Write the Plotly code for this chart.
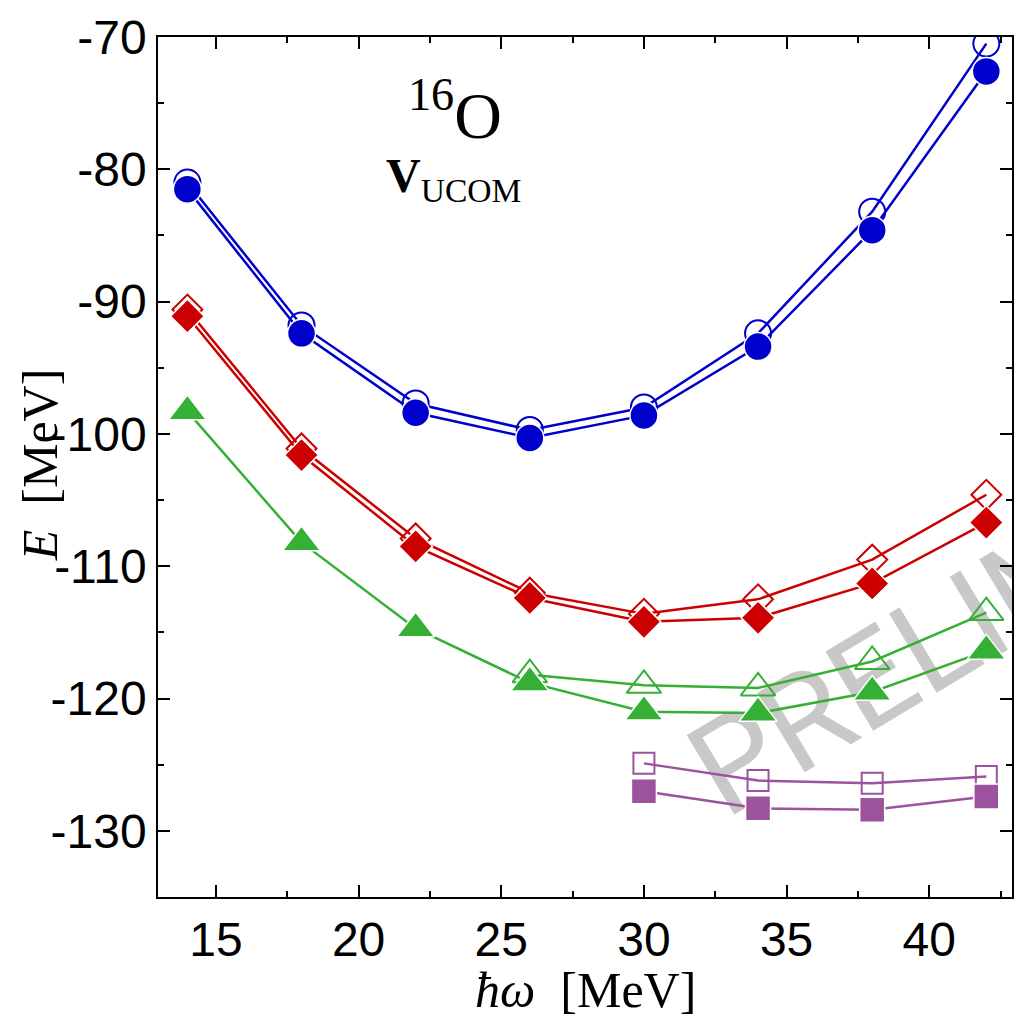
import math
import plotly.graph_objects as go

# ---- data ----
hw = [14, 18, 22, 26, 30, 34, 38, 42]
blue_filled = [-81.5, -92.4, -98.4, -100.3, -98.6, -93.4, -84.6, -72.6]
blue_open = [-81.0, -91.8, -97.7, -99.7, -98.0, -92.4, -83.2, -70.5]
red_filled = [-91.1, -101.6, -108.5, -112.4, -114.2, -113.9, -111.3, -106.7]
red_open = [-90.6, -101.1, -107.9, -112.0, -113.6, -112.5, -109.5, -104.6]
green_filled = [-98.3, -108.2, -114.7, -118.8, -121.0, -121.1, -119.5, -116.4]
hw_green_open = [26, 30, 34, 38, 42]
green_open = [-118.2, -119.0, -119.2, -117.2, -113.5]
hw_purple = [30, 34, 38, 42]
purple_filled = [-127.0, -128.3, -128.4, -127.4]
purple_open = [-124.9, -126.2, -126.4, -125.9]

x_tickvals = [15, 20, 25, 30, 35, 40]
x_ticktext = ["15", "20", "25", "30", "35", "40"]
y_tickvals = [-70, -80, -90, -100, -110, -120, -130]
y_ticktext = ["-70", "-80", "-90", "-100", "-110", "-120", "-130"]

BLUE = "#0000CC"
RED = "#CC0000"
GREEN = "#35B035"
PURPLE = "#9C529C"

fig = go.Figure()

def add_pair(x_open, y_open, x_filled, y_filled, color, sym, size_open, size_filled):
    fig.add_trace(go.Scatter(
        x=x_open, y=y_open, mode="lines+markers",
        line=dict(color=color, width=2.5),
        marker=dict(symbol=sym + "-open", size=size_open, color=color,
                    line=dict(color=color, width=2)),
        showlegend=False, hoverinfo="skip"))
    fig.add_trace(go.Scatter(
        x=x_filled, y=y_filled, mode="lines+markers",
        line=dict(color=color, width=2.5),
        marker=dict(symbol=sym, size=size_filled, color=color,
                    line=dict(color="white", width=1.5)),
        showlegend=False, hoverinfo="skip"))

add_pair(hw, blue_open, hw, blue_filled, BLUE, "circle", 26, 28)
add_pair(hw, red_open, hw, red_filled, RED, "diamond", 23, 26)
add_pair(hw_green_open, green_open, hw, green_filled, GREEN, "triangle-up", 30, 33)
add_pair(hw_purple, purple_open, hw_purple, purple_filled, PURPLE, "square", 21, 25)

L, T, R, B = 158, 37, 0, 121
W, H = 1014, 1018
pw, ph = W - L - R, H - T - B

def px(xp):
    return (xp - L) / pw

def py(yp):
    return (T + ph - yp) / ph

axis_common = dict(
    showgrid=False, zeroline=False, showline=True, linecolor="black", linewidth=1.5,
    ticks="inside", ticklen=12, tickwidth=1.5, tickcolor="black", mirror="ticks",
    tickfont=dict(family="Liberation Sans, Arial, sans-serif", size=48, color="black"),
)

fig.update_xaxes(range=[12.97, 42.9], tickmode="array", tickvals=x_tickvals,
                 ticktext=x_ticktext,
                 minor=dict(dtick=2.5, tick0=15, ticks="inside", ticklen=6,
                            tickwidth=1.5, tickcolor="black"),
                 **axis_common)
fig.update_yaxes(range=[-135, -70], tickmode="array", tickvals=y_tickvals,
                 ticktext=y_ticktext,
                 minor=dict(dtick=5, tick0=-70, ticks="inside", ticklen=6,
                            tickwidth=1.5, tickcolor="black"),
                 **axis_common)

serif = "Liberation Serif, Times New Roman, serif"

# watermark as a line-shape label below the data
WM_SIZE = 130
ang = math.radians(31)
nx, ny = -math.sin(ang), -math.cos(ang)
bx, by = 705, 784
sx, sy = bx - 0.5 * WM_SIZE * nx, by - 0.5 * WM_SIZE * ny
ex, ey = sx + 900 * math.cos(ang), sy - 900 * math.sin(ang)
fig.add_shape(type="line", xref="paper", yref="paper",
              x0=px(sx), y0=py(sy), x1=px(ex), y1=py(ey),
              line=dict(width=0, color="rgba(0,0,0,0)"), layer="below",
              label=dict(text="PRELIMINARY", textposition="start", xanchor="left",
                         yanchor="bottom", padding=0,
                         font=dict(family="Roboto, Liberation Sans, Arial, sans-serif",
                                   size=WM_SIZE, color="#C8C8C8")))

annotations = [
    dict(text="<sup>16</sup>O", x=px(456), y=py(110), xref="paper", yref="paper",
         showarrow=False, xanchor="center", yanchor="middle",
         font=dict(family=serif, size=66, color="black")),
    dict(text="<b>V</b><sub>UCOM</sub>", x=px(454), y=py(179), xref="paper", yref="paper",
         showarrow=False, xanchor="center", yanchor="middle",
         font=dict(family=serif, size=48, color="black")),
    dict(text="<i>ħω</i>  [MeV]", x=px(587), y=py(990), xref="paper", yref="paper",
         showarrow=False, xanchor="center", yanchor="middle",
         font=dict(family=serif, size=50, color="black")),
    dict(text="<i>E</i>  [MeV]", x=px(40), y=py(465), xref="paper", yref="paper",
         showarrow=False, xanchor="center", yanchor="middle", textangle=-90,
         font=dict(family=serif, size=50, color="black")),
]

fig.update_layout(
    width=W, height=H,
    margin=dict(l=L, r=R, t=T, b=B, pad=0),
    paper_bgcolor="white", plot_bgcolor="rgba(0,0,0,0)",
    annotations=annotations,
    showlegend=False,
)

fig.write_html("out.html", config={"displayModeBar": False})
